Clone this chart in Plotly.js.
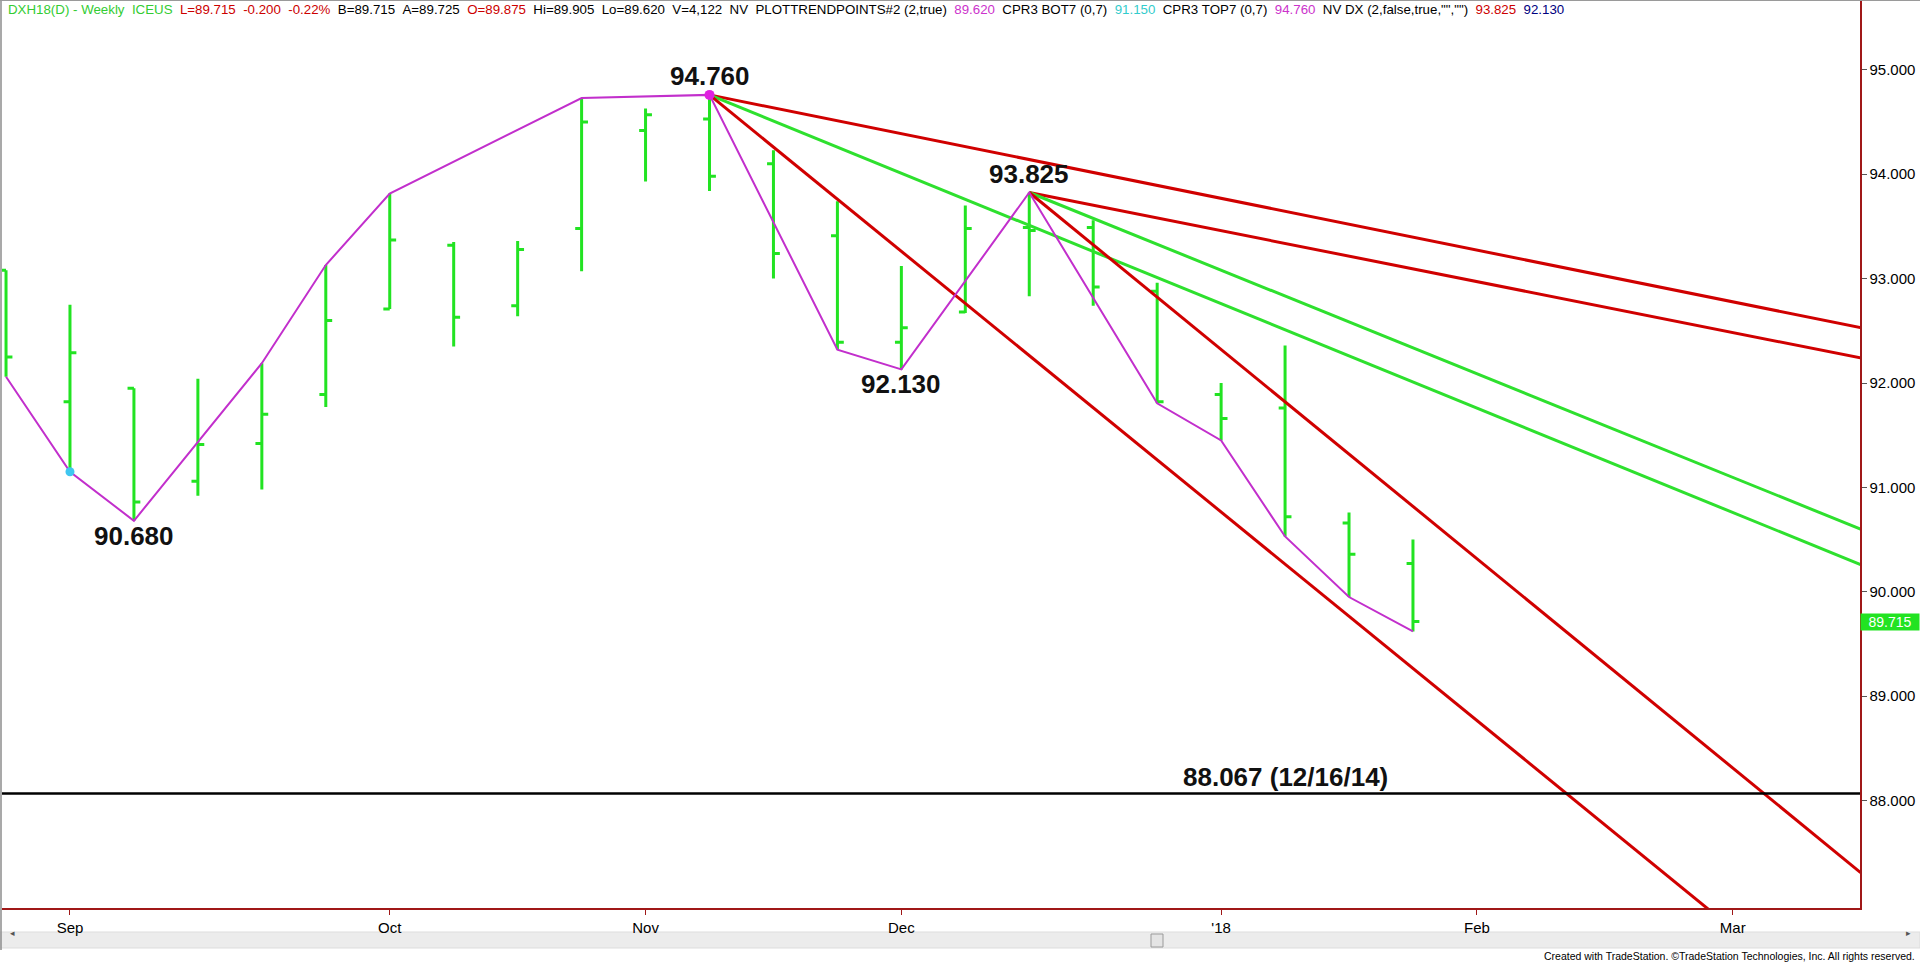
<!DOCTYPE html>
<html>
<head>
<meta charset="utf-8">
<script src="https://cdn.plot.ly/plotly-3.0.1.min.js"></script>
<style>
html,body{margin:0;padding:0;background:#fff;overflow:hidden;}
#chart{width:1920px;height:964px;}
</style>
</head>
<body>
<div id="chart"></div>
<script>
// ---- weekly bar dates (Friday of each week), including future weeks on the axis ----
const weeks = ['2017-08-25','2017-09-01','2017-09-08','2017-09-15','2017-09-22','2017-09-29',
  '2017-10-06','2017-10-13','2017-10-20','2017-10-27','2017-11-03','2017-11-10','2017-11-17',
  '2017-11-24','2017-12-01','2017-12-08','2017-12-15','2017-12-22','2017-12-29','2018-01-05',
  '2018-01-12','2018-01-19','2018-01-26','2018-02-02','2018-02-09','2018-02-16','2018-02-23',
  '2018-03-02','2018-03-09','2018-03-16'];

// ---- OHLC of the 23 weekly bars ----
const opens  = [93.08,91.82,91.95,91.06,91.42,91.89,92.71,93.32,92.74,93.48,94.42,94.53,94.10,93.41,92.39,92.68,93.49,93.49,92.88,91.89,91.76,90.66,90.27];
const highs  = [93.08,92.75,91.95,92.04,92.19,93.13,93.815,93.35,93.36,94.73,94.63,94.76,94.23,93.74,93.12,93.70,93.825,93.56,92.96,92.00,92.36,90.76,90.50];
const lows   = [92.06,91.15,90.68,90.92,90.98,91.77,92.71,92.35,92.64,93.07,93.93,93.84,93.00,92.32,92.13,92.67,92.83,92.74,91.805,91.45,90.53,89.95,89.62];
const closes = [92.25,92.29,90.86,91.41,91.70,92.60,93.37,92.63,93.28,94.50,94.57,93.98,93.24,92.39,92.53,93.48,93.46,92.92,91.82,91.66,90.72,90.36,89.715];

// ---- swing (trend point) line ----
const swingDates  = ['2017-08-25','2017-09-01','2017-09-08','2017-09-22','2017-09-29','2017-10-06','2017-10-27','2017-11-10','2017-11-24','2017-12-01','2017-12-15','2017-12-29','2018-01-05','2018-01-12','2018-01-19','2018-01-26'];
const swingValues = [92.06,91.15,90.68,92.19,93.13,93.815,94.73,94.76,92.32,92.13,93.825,91.805,91.45,90.53,89.95,89.62];

// ---- pivot dots ----
const botDot = {date:'2017-09-01', value:91.15};
const topDot = {date:'2017-11-10', value:94.76};

// ---- labelled pivots ----
const pivotDates  = ['2017-11-10','2017-12-15','2017-12-01','2017-09-08'];
const pivotValues = [94.76, 93.825, 92.13, 90.68];
const pivotLabels = ['94.760','93.825','92.130','90.680'];

// ---- trend lines: start date/price, price at the right edge week (2018-03-16) ----
const trendStartDates = ['2017-11-10','2017-11-10','2017-11-10','2017-12-15','2017-12-15','2017-12-15'];
const trendStartPrices = [94.76, 94.76, 94.76, 93.825, 93.825, 93.825];
const trendEndPrices   = [92.53, 90.26, 85.77, 92.24, 90.60, 87.31];
const trendColors      = ['red','green','red','red','green','red'];

// ---- support level ----
const supportLevel = 88.067;
const supportLabel = '88.067 (12/16/14)';
const supportLabelDate = '2018-01-12';

// ---- price axis ----
const priceTicks = [88,89,90,91,92,93,94,95];
const lastPrice = 89.715;

// ---- header ----
const headerParts = [
  ['DXH18(D) - Weekly  ICEUS', '#33cc33'],
  ['L=89.715  -0.200  -0.22%', '#cc0000'],
  ['B=89.715  A=89.725', '#000000'],
  ['O=89.875', '#cc0000'],
  ['Hi=89.905  Lo=89.620  V=4,122  NV  PLOTTRENDPOINTS#2 (2,true)', '#000000'],
  ['89.620', '#cc33cc'],
  ['CPR3 BOT7 (0,7)', '#000000'],
  ['91.150', '#33cccc'],
  ['CPR3 TOP7 (0,7)', '#000000'],
  ['94.760', '#cc33cc'],
  ['NV DX (2,false,true,"","")', '#000000'],
  ['93.825', '#cc0000'],
  ['92.130', '#000080']
];
const monthNames = ['Jan','Feb','Mar','Apr','May','Jun','Jul','Aug','Sep','Oct','Nov','Dec'];

// ================= build =================
const idx = d => weeks.indexOf(d);
const barX = weeks.slice(0, opens.length).map((d,i)=>i);
const lastIdx = weeks.length - 1;

const BAR_GREEN = '#22e322';
const RED = '#d00000';
const GREEN = '#2ee02e';
const colorMap = {red: RED, green: GREEN};

const traces = [];

// trend lines
for (let k = 0; k < trendStartDates.length; k++) {
  traces.push({
    type:'scatter', mode:'lines',
    x:[idx(trendStartDates[k]), lastIdx],
    y:[trendStartPrices[k], trendEndPrices[k]],
    line:{color: colorMap[trendColors[k]], width:3},
    hoverinfo:'skip', showlegend:false
  });
}

// support line
traces.push({
  type:'scatter', mode:'lines',
  x:[-1, lastIdx], y:[supportLevel, supportLevel],
  line:{color:'#000000', width:2.5}, hoverinfo:'skip', showlegend:false
});

// OHLC bars
traces.push({
  type:'ohlc', x:barX, open:opens, high:highs, low:lows, close:closes,
  increasing:{line:{color:BAR_GREEN, width:3}},
  decreasing:{line:{color:BAR_GREEN, width:3}},
  tickwidth:0.1, hoverinfo:'skip', showlegend:false
});

// swing line
traces.push({
  type:'scatter', mode:'lines',
  x:swingDates.map(idx), y:swingValues,
  line:{color:'#c22fcc', width:2}, hoverinfo:'skip', showlegend:false
});

// dots
traces.push({type:'scatter', mode:'markers', x:[idx(botDot.date)], y:[botDot.value],
  marker:{color:'#3fc6f0', size:9}, hoverinfo:'skip', showlegend:false});
traces.push({type:'scatter', mode:'markers', x:[idx(topDot.date)], y:[topDot.value],
  marker:{color:'#e020e0', size:10}, hoverinfo:'skip', showlegend:false});

// x ticks: first week of each month
const tickvals = [], ticktext = [];
for (let i = 1; i < weeks.length; i++) {
  const m = weeks[i].slice(5,7), pm = weeks[i-1].slice(5,7);
  if (m !== pm) {
    tickvals.push(i);
    const mi = parseInt(m,10) - 1;
    ticktext.push(mi === 0 ? "'" + weeks[i].slice(2,4) : monthNames[mi]);
  }
}

const FONT = 'Arial, "Liberation Sans", sans-serif';
const NB = '\u00a0';
const headerText = headerParts.map(p =>
  '<span style="color:' + p[1] + '">' + p[0].replace(/ /g, NB) + '</span>').join(NB+NB);

// pixel helpers (plot area: x 2..1860, y 0..908)
const px = v => (v - 2) / 1858;
const py = v => (908 - v) / 908;

const pivotShift = [19, 18.5, -15, -15];
const annotations = [];
for (let k = 0; k < pivotLabels.length; k++) {
  annotations.push({
    x: idx(pivotDates[k]), y: pivotValues[k], xref:'x', yref:'y',
    text:'<b>' + pivotLabels[k] + '</b>', showarrow:false,
    xanchor:'center', yanchor:'middle', yshift: pivotShift[k],
    font:{family:FONT, size:26, color:'#111111'}
  });
}
annotations.push({
  x: idx(supportLabelDate), y: supportLevel, xref:'x', yref:'y',
  text:'<b>' + supportLabel + '</b>', showarrow:false,
  xanchor:'center', yanchor:'middle', yshift:17,
  font:{family:FONT, size:26, color:'#111111'}
});
annotations.push({
  x: px(6), y: py(10), xref:'paper', yref:'paper',
  text: headerText, showarrow:false, xanchor:'left', yanchor:'middle',
  font:{family:FONT, size:13.3, color:'#000'}
});
annotations.push({
  x: 1, y: lastPrice, xref:'paper', yref:'y',
  text: lastPrice.toFixed(3), showarrow:false, xanchor:'left', yanchor:'middle',
  bgcolor:'#22e322', width:58, height:16, borderpad:0,
  font:{family:FONT, size:14, color:'#ffffff'}
});
annotations.push({
  x: px(1917), y: py(956), xref:'paper', yref:'paper',
  text:'Created with TradeStation. \u00a9TradeStation Technologies, Inc. All rights reserved.',
  showarrow:false, xanchor:'right', yanchor:'middle',
  font:{family:FONT, size:10.5, color:'#000'}
});
annotations.push({x: px(8), y: py(940), xref:'paper', yref:'paper', text:'\u25c2', showarrow:false,
  font:{size:9, color:'#555'}});
annotations.push({x: px(1913), y: py(940), xref:'paper', yref:'paper', text:'\u25b8', showarrow:false,
  font:{size:9, color:'#555'}});

const shapes = [
  // scrollbar
  {type:'rect', xref:'paper', yref:'paper', x0:px(0), x1:px(1920), y0:py(948), y1:py(932),
   fillcolor:'#ececec', line:{color:'#dddddd', width:1}, layer:'below'},
  {type:'rect', xref:'paper', yref:'paper', x0:px(1151), x1:px(1163), y0:py(947), y1:py(934),
   fillcolor:'#e4e4e4', line:{color:'#9a9a9a', width:1}},
  // left and top border
  {type:'line', xref:'paper', yref:'paper', x0:px(1), x1:px(1), y0:py(0), y1:py(950),
   line:{color:'#8c8c8c', width:1.5}},
  {type:'line', xref:'paper', yref:'paper', x0:px(0), x1:px(1920), y0:py(0.5), y1:py(0.5),
   line:{color:'#9a9a9a', width:1}}
];

const layout = {
  width:1920, height:964,
  margin:{l:2, r:60, t:0, b:56},
  paper_bgcolor:'#ffffff', plot_bgcolor:'#ffffff',
  showlegend:false, hovermode:false, dragmode:false,
  font:{family:FONT, color:'#000'},
  xaxis:{
    type:'linear', range:[-0.063, 28.99],
    tickvals:tickvals, ticktext:ticktext,
    showgrid:false, zeroline:false,
    showline:true, linecolor:'#a01818', linewidth:1.5,
    ticks:'outside', ticklen:5, tickcolor:'#a01818', tickwidth:1,
    tickfont:{family:FONT, size:15, color:'#000'},
    rangeslider:{visible:false}, fixedrange:true
  },
  yaxis:{
    side:'right', range:[86.971, 95.669],
    tickvals:priceTicks, ticktext:priceTicks.map(v=>v.toFixed(3)),
    showgrid:false, zeroline:false,
    showline:true, linecolor:'#a01818', linewidth:1.5,
    ticks:'outside', ticklen:5, tickcolor:'#555555', tickwidth:1,
    tickfont:{family:FONT, size:15, color:'#000'},
    fixedrange:true
  },
  annotations:annotations,
  shapes:shapes
};

Plotly.newPlot('chart', traces, layout, {staticPlot:true, displayModeBar:false});
</script>
</body>
</html>
